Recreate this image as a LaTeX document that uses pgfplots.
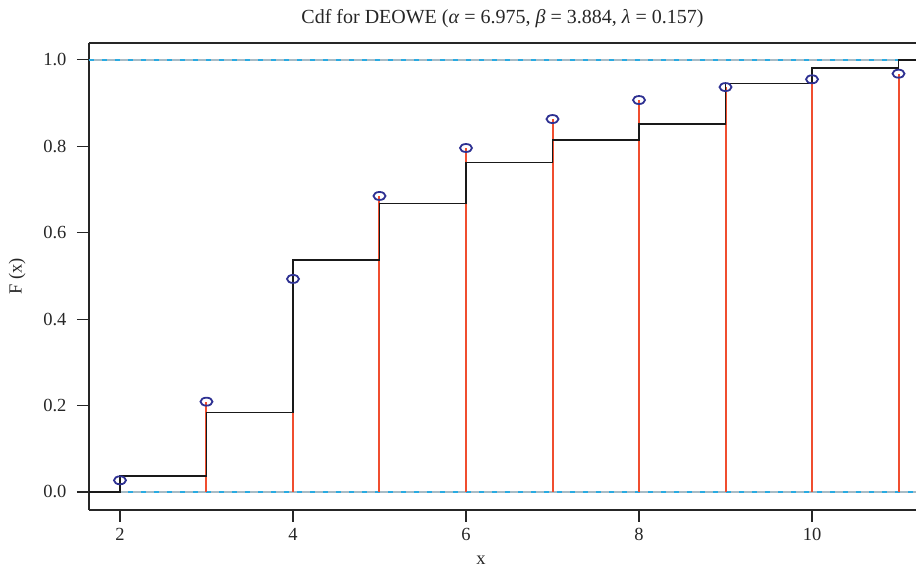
\documentclass[border=0pt]{standalone}
\usepackage{fontspec}
\setmainfont{Liberation Serif}
\usepackage{pgfplots}
\pgfplotsset{compat=1.18}
\definecolor{stemred}{RGB}{240,78,47}
\definecolor{navy}{RGB}{46,49,146}
\definecolor{refgray}{RGB}{168,187,197}
\definecolor{refcyan}{RGB}{41,171,226}
\begin{document}
\begin{tikzpicture}[x=1pt,y=1pt]
\path[use as bounding box] (0,0) rectangle (916,572);
\begin{axis}[
  at={(89pt,62pt)}, anchor=south west,
  scale only axis, width=827pt, height=467pt,
  xmin=1.642, xmax=11.202, ymin=-0.0417, ymax=1.039,
  axis x line*=box, axis y line*=left,
  axis line style={line width=1.2pt, black!85},
  xtick={2,4,6,8,10}, ytick={0,0.2,0.4,0.6,0.8,1.0},
  xtick pos=bottom, ytick pos=left,
  tick align=outside, major tick length=12pt,
  tick style={line width=1.2pt, black!85},
  /pgf/number format/assume math mode=true,
  yticklabel style={/pgf/number format/.cd, fixed, fixed zerofill, precision=1, /tikz/.cd, xshift=-7pt},
  xticklabel style={/pgf/number format/.cd, fixed, precision=0, /tikz/.cd, yshift=-3pt},
  ticklabel style={font=\fontsize{18.5}{22}\selectfont, text=black!85},
  xlabel={x}, ylabel={F (x)},
  label style={font=\fontsize{18.5}{22}\selectfont, text=black!85},
  xlabel style={at={(axis description cs:0.474,0)}, anchor=north, yshift=-42pt},
  ylabel style={at={(axis description cs:0,0.5)}, anchor=south, rotate=0, yshift=60pt},
  title={Cdf for DEOWE (\textit{α} = 6.975, \textit{β} = 3.884, \textit{λ} = 0.157)},
  title style={font=\fontsize{20}{24}\selectfont, text=black!85, at={(axis description cs:0.5,1)}, anchor=south, yshift=6pt},
  clip=false,
]
% reference lines at 0 and 1
\addplot[refgray, line width=2pt] coordinates {(1.642,0) (11.202,0)};
\addplot[refgray, line width=2pt] coordinates {(1.642,1) (11.202,1)};
\addplot[refcyan, line width=1.5pt, dash pattern=on 5pt off 8pt] coordinates {(1.642,0) (11.202,0)};
\addplot[refcyan, line width=1.5pt, dash pattern=on 5pt off 8pt] coordinates {(1.642,1) (11.202,1)};
% stems (empirical)
\addplot[ycomb, stemred, line width=2pt] coordinates {
 (2,0.027) (3,0.209) (4,0.493) (5,0.685) (6,0.796) (7,0.863) (8,0.907) (9,0.937) (10,0.955) (11,0.968)};
% fitted cdf step function
\addplot[const plot, black!90, line width=1.5pt] coordinates {
 (1.642,0) (2,0.037) (3,0.184) (4,0.537) (5,0.667) (6,0.762) (7,0.815) (8,0.852) (9,0.945) (10,0.981) (11,1.0) (11.202,1.0)};
% markers
\addplot[only marks, mark=o, mark size=4pt, navy, mark options={xscale=1.5, line width=1.8pt}] coordinates {
 (2,0.027) (3,0.209) (4,0.493) (5,0.685) (6,0.796) (7,0.863) (8,0.907) (9,0.937) (10,0.955) (11,0.968)};
\end{axis}
\end{tikzpicture}
\end{document}
